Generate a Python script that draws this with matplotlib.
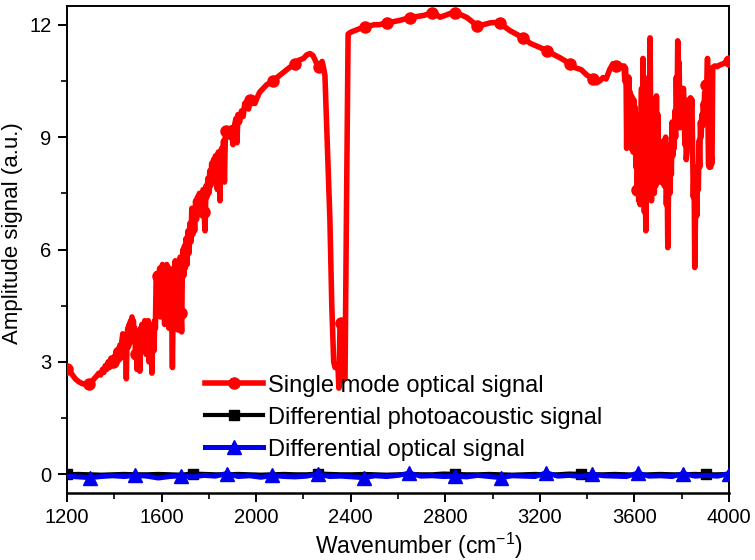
import numpy as np
import matplotlib
matplotlib.use("Agg")
import matplotlib.pyplot as plt

plt.rcParams['font.family'] = ['Liberation Sans', 'DejaVu Sans']
plt.rcParams['mathtext.fontset'] = 'custom'
plt.rcParams['mathtext.rm'] = 'Liberation Sans'

# ---------------- data (wavenumber, amplitude) ----------------
red_low = [(1200, 2.82), (1210, 2.78), (1220, 2.68), (1235, 2.55), (1250, 2.47), (1265, 2.42),
           (1280, 2.40), (1295, 2.42), (1305, 2.47), (1315, 2.55), (1325, 2.62), (1335, 2.70),
           (1342, 2.65), (1350, 2.80), (1356, 2.72), (1362, 2.90), (1368, 2.80), (1374, 3.00),
           (1380, 2.85), (1386, 3.10), (1390, 2.90), (1395, 3.00)]
red_rise1 = [(1400, 3.15), (1404, 2.95), (1408, 3.30), (1412, 3.00), (1416, 3.35), (1420, 3.05),
             (1424, 3.45), (1428, 3.10), (1432, 3.55), (1436, 3.75), (1439, 3.20), (1442, 3.60),
             (1445, 3.20), (1448, 3.70), (1451, 2.55), (1454, 3.60), (1457, 3.90), (1460, 3.40),
             (1463, 4.00), (1466, 3.50), (1469, 4.10), (1472, 3.60), (1475, 4.20), (1478, 3.70),
             (1481, 4.10), (1484, 3.60), (1487, 3.90), (1490, 3.20), (1493, 3.80), (1496, 2.80),
             (1499, 3.70), (1502, 3.40), (1505, 3.80), (1508, 2.75), (1511, 3.90), (1514, 3.50),
             (1517, 4.00), (1520, 3.40), (1523, 3.90), (1526, 3.30), (1529, 4.10), (1532, 3.60),
             (1535, 3.20), (1538, 4.00), (1541, 3.50), (1544, 4.10), (1547, 3.00), (1550, 3.90),
             (1553, 3.40), (1556, 4.00), (1559, 2.70), (1562, 3.60), (1565, 3.90), (1568, 3.30),
             (1571, 4.10), (1574, 3.90)]
red_rise2 = [(1577, 5.20), (1580, 5.25), (1583, 4.30), (1586, 5.30), (1589, 4.60), (1592, 5.50),
             (1595, 4.20), (1598, 5.40), (1601, 4.70), (1604, 5.60), (1607, 4.50), (1610, 5.50),
             (1613, 4.00), (1616, 5.40), (1619, 4.60), (1622, 5.60), (1625, 4.30), (1628, 5.30),
             (1631, 3.90), (1634, 5.50), (1637, 4.40), (1640, 5.20), (1643, 4.20), (1646, 2.85),
             (1649, 4.50), (1652, 5.40), (1655, 4.70), (1658, 5.70), (1661, 4.90), (1664, 5.50),
             (1667, 4.30), (1670, 3.85), (1673, 5.60), (1676, 4.60), (1679, 5.80), (1682, 4.30),
             (1685, 3.80), (1688, 5.50), (1691, 6.00), (1694, 5.30), (1697, 6.10), (1700, 5.50),
             (1704, 6.30), (1708, 5.60), (1712, 6.50), (1716, 5.90), (1720, 6.70), (1724, 6.20),
             (1728, 7.10), (1732, 6.40), (1736, 7.00), (1740, 6.50), (1744, 7.30), (1748, 6.80),
             (1752, 7.40), (1756, 7.00), (1760, 7.50), (1764, 7.10), (1768, 7.40), (1772, 6.90),
             (1776, 7.60), (1780, 7.00), (1784, 6.50), (1788, 7.70), (1792, 7.40), (1796, 7.90),
             (1800, 7.50), (1804, 8.10), (1808, 7.70), (1812, 8.30), (1816, 7.90), (1820, 8.40),
             (1824, 7.80), (1828, 8.50), (1832, 8.00), (1836, 7.60), (1840, 8.60), (1844, 8.20),
             (1847, 7.30), (1850, 8.50), (1854, 8.70), (1858, 8.10), (1862, 8.90), (1866, 7.80),
             (1870, 9.10), (1874, 9.15)]
red_plateau = [(1880, 9.20), (1888, 9.00), (1895, 9.25), (1902, 8.80), (1908, 9.30), (1915, 9.50),
               (1919, 8.85), (1923, 9.60), (1930, 9.40), (1938, 9.70), (1945, 9.55), (1952, 9.90),
               (1960, 9.95), (1968, 9.75), (1975, 10.00), (1985, 10.05), (1995, 9.90), (2004, 10.05),
               (2015, 10.20), (2030, 10.30), (2045, 10.40), (2060, 10.45), (2071, 10.50), (2090, 10.60),
               (2110, 10.70), (2130, 10.80), (2150, 10.90), (2164, 10.96), (2180, 11.05), (2200, 11.10),
               (2215, 11.20), (2228, 11.23), (2240, 11.18), (2250, 11.05), (2257, 10.95), (2265, 10.88),
               (2272, 10.95), (2279, 11.02), (2285, 10.85), (2291, 10.65)]
red_co2 = [(2300, 9.00), (2312, 6.80), (2320, 4.50), (2328, 3.00), (2334, 2.85), (2340, 2.95),
           (2346, 2.90), (2350, 2.30), (2355, 4.10), (2360, 4.05), (2365, 2.50), (2370, 2.60),
           (2376, 2.55), (2382, 7.00), (2389, 11.75)]
red_top = [(2400, 11.80), (2420, 11.85), (2440, 11.90), (2460, 11.93), (2480, 11.97), (2500, 12.00),
           (2520, 12.00), (2553, 12.05), (2580, 12.08), (2610, 12.12), (2651, 12.19), (2680, 12.22),
           (2710, 12.25), (2744, 12.32), (2760, 12.28), (2778, 12.20), (2800, 12.25), (2820, 12.30),
           (2841, 12.32), (2860, 12.28), (2875, 12.24), (2892, 12.19), (2910, 12.10), (2934, 11.97),
           (2960, 12.00), (2990, 12.05), (3010, 12.06), (3031, 12.05), (3050, 11.95), (3074, 11.84),
           (3100, 11.75), (3129, 11.65), (3160, 11.50), (3190, 11.42), (3230, 11.31), (3260, 11.20),
           (3290, 11.10), (3327, 10.96), (3350, 10.85), (3375, 10.80), (3400, 10.65), (3425, 10.56),
           (3440, 10.45), (3454, 10.50), (3467, 10.59), (3480, 10.55), (3495, 10.80), (3509, 10.96),
           (3520, 10.90), (3535, 10.85), (3545, 10.90)]
red_water = [(3552, 10.85), (3556, 10.90), (3559, 10.50), (3562, 10.85), (3565, 10.30), (3567, 8.70),
             (3570, 10.50), (3573, 9.60), (3576, 10.60), (3579, 9.00), (3582, 10.20), (3585, 8.70),
             (3588, 10.10), (3591, 9.30), (3594, 8.60), (3597, 10.00), (3600, 8.90), (3603, 9.80),
             (3606, 8.20), (3609, 9.60), (3612, 7.60), (3615, 9.20), (3618, 7.30), (3621, 8.90),
             (3624, 7.20), (3627, 9.50), (3630, 10.30), (3633, 8.00), (3636, 11.10), (3639, 9.00),
             (3642, 7.00), (3645, 9.80), (3648, 6.50), (3651, 8.50), (3654, 9.90), (3657, 7.50),
             (3660, 10.60), (3663, 8.00), (3666, 11.65), (3669, 9.20), (3672, 7.30), (3675, 9.90),
             (3678, 7.80), (3681, 9.40), (3684, 7.50), (3687, 8.90), (3690, 7.70), (3693, 10.10),
             (3696, 8.30), (3699, 9.60), (3702, 7.90), (3705, 8.80), (3708, 7.90), (3711, 8.40),
             (3714, 7.80), (3717, 8.60), (3720, 8.00), (3723, 8.90), (3726, 7.70), (3729, 8.60),
             (3732, 9.00), (3735, 7.20), (3738, 8.20), (3741, 6.05), (3744, 7.60), (3747, 8.30),
             (3750, 7.50), (3753, 8.80), (3756, 8.00), (3759, 9.40), (3762, 8.50), (3765, 9.20),
             (3768, 8.70), (3771, 9.70), (3774, 9.00), (3777, 10.60), (3780, 9.50), (3783, 11.57),
             (3786, 10.20), (3789, 11.00), (3792, 9.25), (3795, 10.00), (3798, 9.50), (3801, 10.30),
             (3804, 9.60), (3807, 10.30), (3810, 9.90), (3813, 8.80), (3816, 9.60), (3819, 8.40),
             (3822, 8.60), (3825, 9.70), (3828, 9.20), (3831, 10.00), (3834, 9.60), (3837, 10.05),
             (3840, 9.70), (3843, 10.00), (3846, 8.60), (3849, 7.40), (3852, 8.20), (3855, 5.52),
             (3858, 6.80), (3861, 7.40), (3864, 6.90), (3867, 8.00), (3870, 7.60), (3873, 8.90),
             (3876, 8.20), (3879, 9.40), (3882, 9.00), (3885, 9.60), (3888, 9.30), (3891, 9.90),
             (3894, 9.70), (3897, 10.20), (3900, 10.00), (3903, 10.40), (3906, 10.30), (3909, 11.10),
             (3911, 9.50), (3913, 8.30), (3916, 8.20), (3919, 8.40), (3922, 8.20), (3925, 8.50),
             (3928, 8.30), (3931, 10.86), (3940, 10.90), (3950, 10.88), (3960, 10.92), (3975, 10.96),
             (3990, 11.00), (4000, 11.04)]

# Differential photoacoustic signal (black)
pa_amp = [0.00, 0.01, 0.00, -0.01, 0.00, 0.01, 0.00, 0.00, 0.01, 0.00, -0.01, 0.02, 0.01, 0.00,
          0.00, 0.01, 0.00, -0.01, 0.00, 0.01, 0.00, 0.00, 0.02, 0.01, 0.00, 0.00, 0.01, 0.00,
          -0.01, 0.00, 0.01, 0.00, 0.00, 0.02, 0.01, 0.00, 0.00, 0.01, 0.00, -0.01, 0.00, 0.01,
          0.00, 0.00, 0.02, 0.01, 0.00, 0.00, 0.01, 0.00, -0.01, 0.00, 0.01, 0.00, 0.00, 0.01,
          0.00, 0.00, 0.01]
# Differential optical signal (blue)
opt_amp = [-0.05, -0.07, -0.09, -0.06, -0.04, -0.06, -0.03, -0.05, -0.10, -0.06, -0.04, -0.07, -0.03, -0.05,
           0.02, -0.06, -0.04, -0.08, -0.03, -0.06, -0.07, -0.05, 0.01, -0.06, -0.05, -0.07, -0.09, -0.04,
           -0.06, -0.03, 0.03, -0.05, -0.04, -0.06, -0.05, -0.07, -0.03, -0.06, -0.09, -0.04, -0.05, -0.06,
           0.04, -0.05, -0.03, -0.06, 0.00, -0.04, -0.05, -0.06, 0.03, -0.05, -0.04, -0.06, 0.02, -0.05,
           -0.03, -0.05, 0.02]
diff_wn = np.linspace(1200, 4000, len(opt_amp))

xticks = [1200, 1600, 2000, 2400, 2800, 3200, 3600, 4000]
yticks = [0, 3, 6, 9, 12]
labels = ["Single mode optical signal", "Differential photoacoustic signal",
          "Differential optical signal"]

red = red_low + red_rise1 + red_rise2 + red_plateau + red_co2 + red_top + red_water
red_wn = np.array([p[0] for p in red], dtype=float)
red_amp = np.array([p[1] for p in red], dtype=float)

# ---------------- figure ----------------
fig = plt.figure(figsize=(7.55, 5.6), dpi=100)
ax = fig.add_axes([0.0887, 0.1196, 0.8769, 0.8697])

red_marks = sorted(set(int(np.argmin(np.abs(red_wn - m))) for m in np.arange(1200, 4001, 96.5)))
pa_marks = sorted(set(int(np.argmin(np.abs(diff_wn - m))) for m in np.arange(1200, 4001, 541)))

ax.plot(red_wn, red_amp, color='#ff0000', lw=4.0, marker='o', ms=8, markevery=red_marks,
        label=labels[0], zorder=3)
ax.plot(diff_wn, pa_amp, color='black', lw=3.0, marker='s', ms=7.5, markevery=pa_marks,
        label=labels[1], zorder=4)
ax.plot(diff_wn, opt_amp, color='#0000ee', lw=3.6, marker='^', ms=9.5, markevery=(2, 4),
        label=labels[2], zorder=5)

ax.set_xlim(1200, 4000)
ax.set_ylim(-0.5, 12.5)
ax.set_xticks(xticks)
ax.set_yticks(yticks)
ax.set_xticks(np.arange(1200, 4001, 200), minor=True)
ax.set_yticks(np.arange(0, 12.6, 1.5), minor=True)
ax.tick_params(axis='both', which='major', direction='out', length=6.5, width=1.4, labelsize=14.5,
               pad=4.5)
ax.tick_params(axis='both', which='minor', direction='out', length=4.3, width=1.2)
for s in ax.spines.values():
    s.set_linewidth(1.4)
ax.spines['bottom'].set_linewidth(1.8)

ax.set_xlabel("Wavenumber (cm$^{\\mathregular{-1}}$)", fontsize=16.5)
ax.set_ylabel("Amplitude signal (a.u.)", fontsize=16)
ax.xaxis.set_label_coords(0.532, -0.078)
ax.yaxis.set_label_coords(-0.067, 0.534)

leg = ax.legend(loc='upper left', bbox_to_anchor=(0.2085, 0.243), frameon=False, fontsize=17,
                handlelength=2.45, handletextpad=0.2, labelspacing=0.42, borderaxespad=0,
                borderpad=0)

fig.savefig("out.png", dpi=100)
